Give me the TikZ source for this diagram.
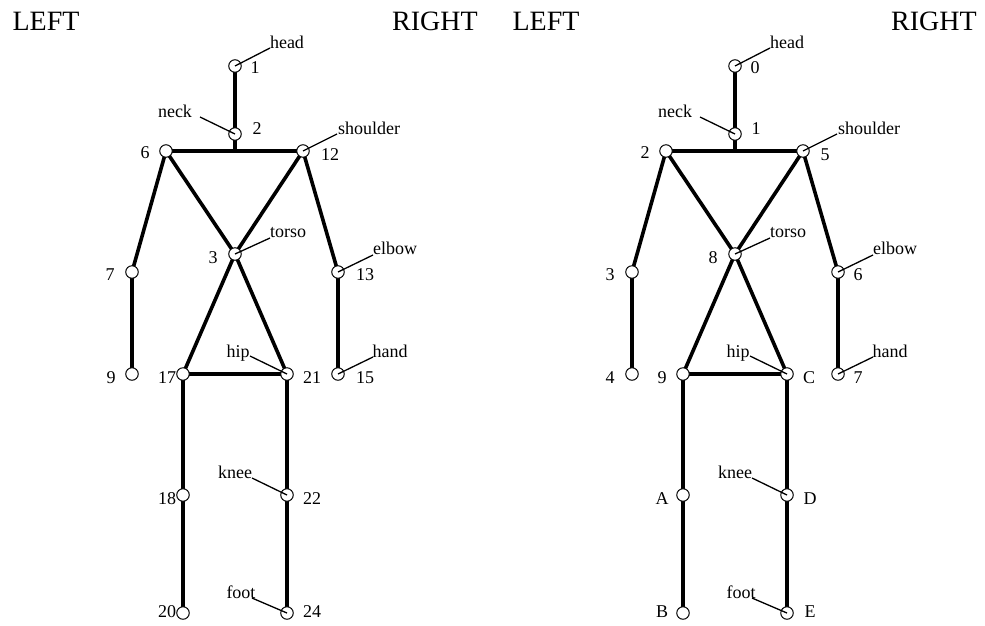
\documentclass[tikz,border=0pt]{standalone}
\usepackage{fontspec}
\setmainfont{Liberation Serif}
\pgfdeclarelayer{bg}
\pgfsetlayers{bg,main}
\tikzset{
  joint/.style={circle,draw,fill=white,line width=1pt,inner sep=0pt,minimum size=12.5pt},
  bone/.style={line width=3.6pt},
  ptr/.style={line width=1.3pt},
  num/.style={anchor=base,inner sep=0pt,font=\fontsize{18}{20}\selectfont},
  part/.style={anchor=base,inner sep=0pt,font=\fontsize{18}{20}\selectfont},
  side/.style={anchor=base,inner sep=0pt,font=\fontsize{28}{30}\selectfont},
}
\newcommand\skelfig[2]{%
\begin{scope}[xshift=#2]
  \node[joint] (#1hd) at (235,66) {};
  \node[joint] (#1nk) at (235,134) {};
  \node[joint] (#1ls) at (166,151) {};
  \node[joint] (#1rs) at (303,151) {};
  \node[joint] (#1to) at (235,254) {};
  \node[joint] (#1le) at (132,272) {};
  \node[joint] (#1re) at (338,272) {};
  \node[joint] (#1lh) at (132,374) {};
  \node[joint] (#1rh) at (338,374) {};
  \node[joint] (#1lp) at (183,374) {};
  \node[joint] (#1rp) at (287,374) {};
  \node[joint] (#1lk) at (183,495) {};
  \node[joint] (#1rk) at (287,495) {};
  \node[joint] (#1lf) at (183,613) {};
  \node[joint] (#1rf) at (287,613) {};
  \begin{pgfonlayer}{bg}
    \draw[bone] (#1hd.center) -- (#1nk.center) -- (#1nk.center |- #1ls.center);
    \draw[bone] (#1ls.center) -- (#1rs.center);
    \draw[bone] (#1ls.center) -- (#1le.center) -- (#1lh.center);
    \draw[bone] (#1rs.center) -- (#1re.center) -- (#1rh.center);
    \draw[bone] (#1ls.center) -- (#1to.center) -- (#1rs.center);
    \draw[bone] (#1lp.center) -- (#1to.center) -- (#1rp.center);
    \draw[bone] (#1lp.center) -- (#1rp.center);
    \draw[bone] (#1lp.center) -- (#1lk.center) -- (#1lf.center);
    \draw[bone] (#1rp.center) -- (#1rk.center) -- (#1rf.center);
  \end{pgfonlayer}
  % part names
  \node[part] (#1thd) at (287,48) {head};
  \node[part] (#1tnk) at (175,117) {neck};
  \node[part] (#1trs) at (369,134) {shoulder};
  \node[part] (#1tto) at (288,237) {torso};
  \node[part] (#1tre) at (395,254) {elbow};
  \node[part] (#1trh) at (390,357) {hand};
  \node[part] (#1trp) at (238,357) {hip};
  \node[part] (#1trk) at (235,478) {knee};
  \node[part] (#1trf) at (241,598) {foot};
  \coordinate (#1phd) at (270,48);
  \coordinate (#1pnk) at (200,117);
  \coordinate (#1prs) at (337,134);
  \coordinate (#1pto) at (270,238);
  \coordinate (#1pre) at (373,255);
  \coordinate (#1prh) at (373,357);
  \coordinate (#1prp) at (250,356);
  \coordinate (#1prk) at (252,478);
  \coordinate (#1prf) at (252,598);
  \draw[ptr] (#1phd) -- (#1hd.center);
  \draw[ptr] (#1pnk) -- (#1nk.center);
  \draw[ptr] (#1prs) -- (#1rs.center);
  \draw[ptr] (#1pto) -- (#1to.center);
  \draw[ptr] (#1pre) -- (#1re.center);
  \draw[ptr] (#1prh) -- (#1rh.center);
  \draw[ptr] (#1prp) -- (#1rp.center);
  \draw[ptr] (#1prk) -- (#1rk.center);
  \draw[ptr] (#1prf) -- (#1rf.center);
\end{scope}}
\begin{document}
\begin{tikzpicture}[x=1pt,y=-1pt]
  \useasboundingbox (0,0) rectangle (985,625);
  \skelfig{l}{0pt}
  \skelfig{r}{500pt}
  % side titles
  \node[side] (lL) at (46,30) {LEFT};
  \node[side] (lR) at (435,30) {RIGHT};
  \node[side] (rL) at (546,30) {LEFT};
  \node[side] (rR) at (934,30) {RIGHT};
  % left panel numbers
  \node[num] (nl1) at (255,73) {1};
  \node[num] (nl2) at (257,134) {2};
  \node[num] (nl6) at (145,158) {6};
  \node[num] (nl12) at (330,160) {12};
  \node[num] (nl3) at (213,263) {3};
  \node[num] (nl7) at (110,280) {7};
  \node[num] (nl13) at (365,280) {13};
  \node[num] (nl9) at (111,383) {9};
  \node[num] (nl15) at (365,383) {15};
  \node[num] (nl17) at (167,383) {17};
  \node[num] (nl21) at (312,383) {21};
  \node[num] (nl18) at (167,504) {18};
  \node[num] (nl22) at (312,504) {22};
  \node[num] (nl20) at (167,617) {20};
  \node[num] (nl24) at (312,617) {24};
  % right panel numbers
  \node[num] (nr0) at (755,73) {0};
  \node[num] (nr1) at (756,134) {1};
  \node[num] (nr2) at (645,158) {2};
  \node[num] (nr5) at (825,160) {5};
  \node[num] (nr8) at (713,263) {8};
  \node[num] (nr3) at (610,280) {3};
  \node[num] (nr6) at (858,280) {6};
  \node[num] (nr4) at (610,383) {4};
  \node[num] (nr7) at (858,383) {7};
  \node[num] (nr9) at (662,383) {9};
  \node[num] (nrC) at (809,383) {C};
  \node[num] (nrA) at (662,504) {A};
  \node[num] (nrD) at (810,504) {D};
  \node[num] (nrB) at (662,617) {B};
  \node[num] (nrE) at (810,617) {E};
\end{tikzpicture}
\end{document}
